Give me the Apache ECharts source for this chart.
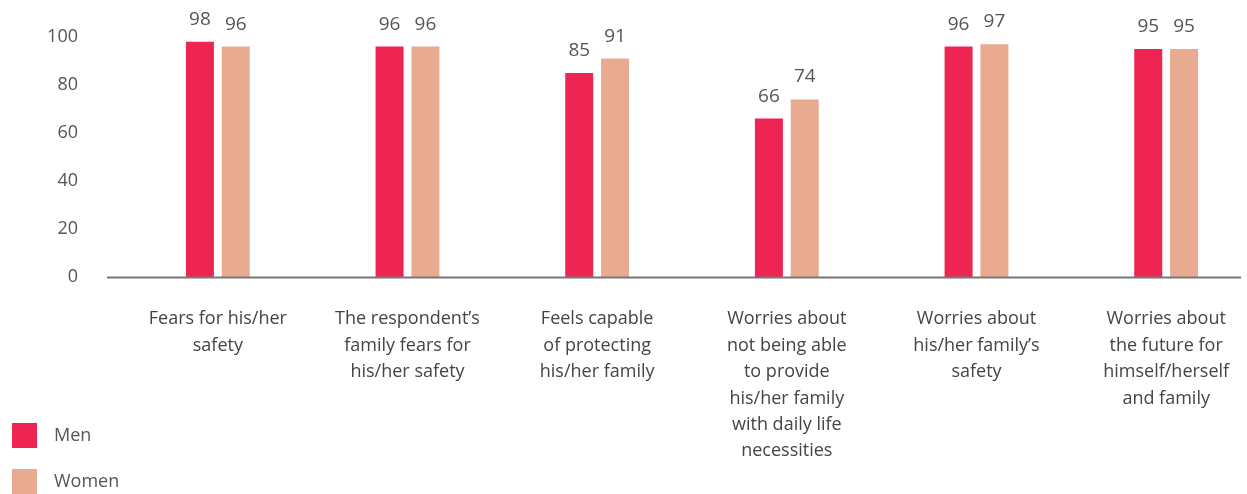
<!DOCTYPE html>
<html><head><meta charset="utf-8">
<script src="https://cdn.jsdelivr.net/npm/echarts@6/dist/echarts.min.js"></script>
<style>html,body{margin:0;padding:0;background:#fff}#c{width:1247px;height:494px}</style>
</head><body><div id="c"></div>
<script>
const categories = [
  "Fears for his/her\nsafety",
  "The respondent’s\nfamily fears for\nhis/her safety",
  "Feels capable\nof protecting\nhis/her family",
  "Worries about\nnot being able\nto provide\nhis/her family\nwith daily life\nnecessities",
  "Worries about\nhis/her family’s\nsafety",
  "Worries about\nthe future for\nhimself/herself\nand family"
];
const men = [98, 96, 85, 66, 96, 95];
const women = [96, 96, 91, 74, 97, 95];
const yTicks = { min: 0, max: 100, interval: 20 };

const FONT = "'Open Sans', 'Noto Sans', sans-serif";
const chart = echarts.init(document.getElementById('c'));
const labelCfg = { show: true, position: 'top', distance: 13, color: '#555', fontSize: 19, fontFamily: FONT };
chart.setOption({
  animation: false,
  grid: { left: 123, width: 1138, top: 37, height: 240, containLabel: false, outerBoundsMode: 'none' },
  legend: {
    orient: 'vertical', left: 7, top: 418, height: 80, itemWidth: 25, itemHeight: 25, itemGap: 21,
    icon: 'rect', textStyle: { color: '#555', fontSize: 18, fontFamily: FONT, padding: [0, 0, 0, 12] },
    data: ['Men', 'Women']
  },
  xAxis: {
    type: 'category', data: categories,
    axisLine: { show: false }, axisTick: { show: false },
    axisLabel: { interval: 0, margin: 29, color: '#444', fontSize: 18, lineHeight: 26.4, fontFamily: FONT, verticalAlign: 'top' }
  },
  yAxis: {
    type: 'value', min: yTicks.min, max: yTicks.max, interval: yTicks.interval,
    splitLine: { show: false }, axisLine: { show: false }, axisTick: { show: false },
    axisLabel: { margin: 45, color: '#555', fontSize: 18, fontFamily: FONT }
  },
  graphic: [{ type: 'line', shape: { x1: 107, y1: 277.5, x2: 1241, y2: 277.5 }, style: { stroke: '#777', lineWidth: 2 }, z: 10 }],
  series: [
    { name: 'Men', type: 'bar', data: men, barWidth: 28, barGap: '28%', itemStyle: { color: '#EE2452' }, label: labelCfg },
    { name: 'Women', type: 'bar', data: women, barWidth: 28, itemStyle: { color: '#E8AA90' }, label: labelCfg }
  ]
});
</script></body></html>
